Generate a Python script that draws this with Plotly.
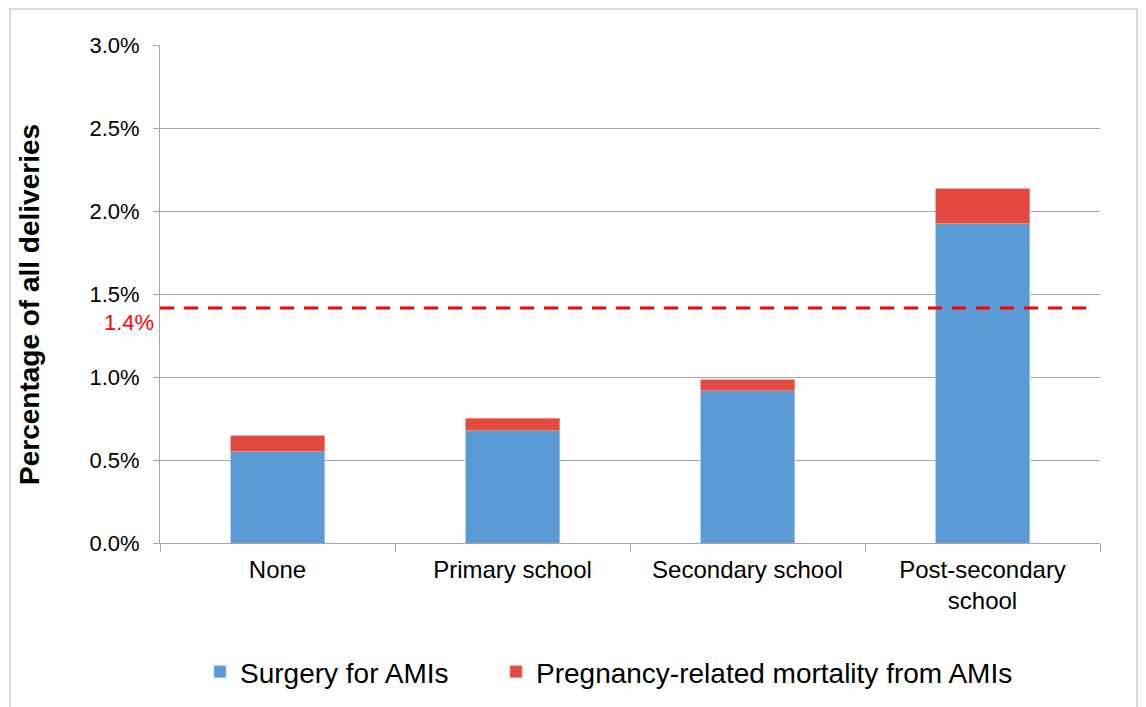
import plotly.graph_objects as go

categories = ["None", "Primary school", "Secondary school", "Post-secondary<br>school"]
surgery = [0.55, 0.675, 0.917, 1.922]
mortality = [0.095, 0.076, 0.065, 0.211]
reference_value = 1.416
reference_label = "1.4%"
series_names = ["Surgery for AMIs", "Pregnancy-related mortality from AMIs"]
y_title = "Percentage of all deliveries"
y_ticks = [0, 0.5, 1.0, 1.5, 2.0, 2.5, 3.0]
y_tick_text = ["0.0%", "0.5%", "1.0%", "1.5%", "2.0%", "2.5%", "3.0%"]

BLUE = "#5b9bd5"
RED = "#e24a3f"
GRID = "#a6a6a6"
FONT = "Liberation Sans, Arial, sans-serif"

fig = go.Figure()
fig.add_trace(go.Bar(x=categories, y=surgery, name=series_names[0], legend="legend",
                     marker=dict(color=BLUE, line=dict(color="#a9c8e8", width=0.8)), width=0.4))
fig.add_trace(go.Bar(x=categories, y=mortality, name=series_names[1], legend="legend2",
                     marker=dict(color=RED, line=dict(color="#ee9a93", width=0.8)), width=0.4))

# page has 8px body offset
L, R, T, B = 152, 54, 37, 172
W, H = 1146, 707
pw, ph = W - L - R, H - T - B
OX, OY = 8 + L, 8 + T  # page px of plot top-left
PB = OY + ph           # page px of plot bottom


def px_x(p):
    return (p - OX) / pw


def px_y(p):
    return (PB - p) / ph


fig.add_shape(type="line", xref="paper", yref="y", x0=0, x1=px_x(1086),
              y0=reference_value, y1=reference_value,
              line=dict(color="#ff0000", width=3, dash="14px,10px"))
fig.add_annotation(xref="paper", yref="y", x=px_x(156), y=reference_value, text=reference_label,
                   showarrow=False, xanchor="right", yanchor="top", yshift=0,
                   font=dict(family=FONT, size=22, color="#ff0000"))
fig.add_annotation(xref="paper", yref="paper", x=px_x(29), y=px_y(305), text="<b>" + y_title + "</b>",
                   showarrow=False, textangle=-90, xanchor="center", yanchor="middle",
                   font=dict(family=FONT, size=28, color="#000"))
# outer border
fig.add_shape(type="rect", xref="paper", yref="paper",
              x0=px_x(10), x1=px_x(1137), y0=px_y(730), y1=px_y(9),
              line=dict(color="#d9d9d9", width=2), fillcolor="rgba(0,0,0,0)", layer="below")

legend_common = dict(orientation="h", xanchor="left", y=px_y(672), yanchor="middle",
                     font=dict(size=28, family=FONT), itemwidth=30, bgcolor="rgba(0,0,0,0)")

fig.update_layout(
    width=W, height=H, barmode="stack",
    margin=dict(l=L, r=R, t=T, b=B),
    paper_bgcolor="white", plot_bgcolor="white",
    font=dict(family=FONT, color="#000000"),
    showlegend=True,
    legend=dict(x=px_x(200), **legend_common),
    legend2=dict(x=px_x(496), **legend_common),
    xaxis=dict(showline=True, linecolor=GRID, linewidth=1, ticks="outside", tickson="boundaries",
               ticklen=8, tickcolor=GRID, tickfont=dict(size=24, family=FONT, color="#000"),
               ticklabelstandoff=5, showgrid=False),
    yaxis=dict(range=[0, 3.0], tickvals=y_ticks, ticktext=y_tick_text, showline=True,
               linecolor=GRID, linewidth=1, ticks="outside", ticklen=6, tickcolor=GRID,
               ticklabelstandoff=9,
               showgrid=True, gridcolor=GRID, gridwidth=1, zeroline=False,
               tickfont=dict(size=22, family=FONT, color="#000")),
)

fig.write_html("out.html")
